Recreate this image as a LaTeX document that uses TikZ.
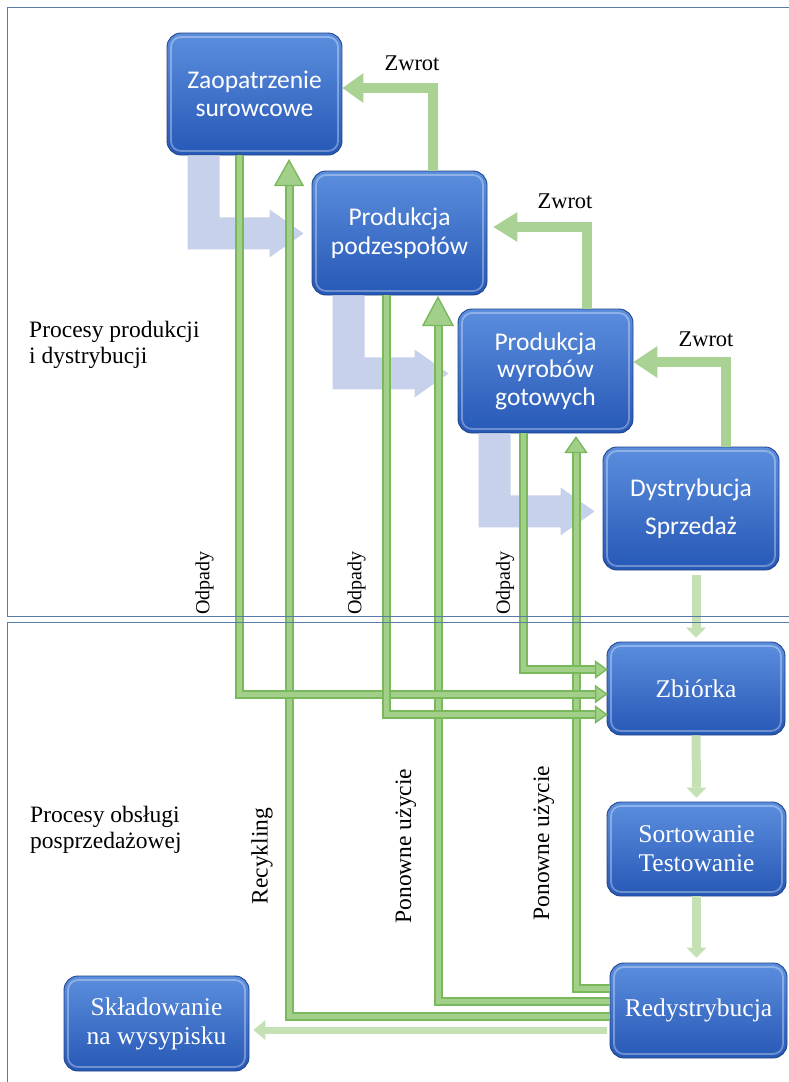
\documentclass[tikz,border=0pt]{standalone}
\usepackage{fontspec}
\setmainfont{Liberation Serif}
\newfontfamily\calibri{Carlito}
\usetikzlibrary{calc}

\definecolor{panelline}{RGB}{88,122,166}
\definecolor{boxtop}{RGB}{92,142,222}
\definecolor{boxbot}{RGB}{38,88,182}
\definecolor{boxedge}{RGB}{34,68,138}
\definecolor{flowblue}{RGB}{200,209,236}
\definecolor{zwrotgreen}{RGB}{170,210,148}
\definecolor{lightflow}{RGB}{197,224,180}
\definecolor{gedge}{RGB}{122,184,92}
\definecolor{gfill}{RGB}{162,208,138}

% arrow heads: style, tip coordinate, length, half width
\newcommand\ahR[4]{\filldraw[#1] (#2) -- ($(#2)+(-#3,-#4)$) -- ($(#2)+(-#3,#4)$) -- cycle;}
\newcommand\ahL[4]{\filldraw[#1] (#2) -- ($(#2)+(#3,-#4)$) -- ($(#2)+(#3,#4)$) -- cycle;}
\newcommand\ahU[4]{\filldraw[#1] (#2) -- ($(#2)+(-#4,#3)$) -- ($(#2)+(#4,#3)$) -- cycle;}
\newcommand\ahD[4]{\filldraw[#1] (#2) -- ($(#2)+(-#4,-#3)$) -- ($(#2)+(#4,-#3)$) -- cycle;}

\begin{document}
\begin{tikzpicture}[x=1pt,y=-1pt,
  procbox/.style={rounded corners=14pt, draw=boxedge, line width=0.9pt,
    top color=boxtop, bottom color=boxbot, text=white, align=center, inner sep=0pt,
    path picture={\draw[white, opacity=0.33, line width=1.8pt, rounded corners=10pt]
      ([xshift=4pt,yshift=-4pt]path picture bounding box.north west) rectangle
      ([xshift=-4pt,yshift=4pt]path picture bounding box.south east);}},
  sansbox/.style={procbox, font=\calibri\fontsize{25.5}{28.5}\selectfont},
  serifbox/.style={procbox, font=\fontsize{25.5}{29}\selectfont},
  panel/.style={draw=panelline, line width=1pt},
  lbl/.style={align=left, inner sep=0pt, font=\fontsize{23.5}{25.8}\selectfont},
  zlbl/.style={inner sep=0pt, font=\fontsize{22.5}{26}\selectfont},
  olbl/.style={inner sep=0pt, rotate=90, font=\fontsize{20}{22}\selectfont},
  vlbl/.style={inner sep=0pt, rotate=90, font=\fontsize{23.5}{26}\selectfont},
  zwrot/.style={draw=zwrotgreen, line width=10pt, line join=miter},
  zhead/.style={fill=zwrotgreen, draw=none},
  gline/.style={draw=gfill, line width=5pt, line join=miter,
    preaction={draw=gedge, line width=9pt, line join=miter}},
  ghead/.style={fill=gfill, draw=gedge, line width=1.4pt, line join=miter},
  lflow/.style={draw=lightflow, line width=9pt},
  lhead/.style={fill=lightflow, draw=none},
  lshape/.pic={\fill[flowblue] (21,0) -- (53,0) -- (53,62) -- (103,62) -- (103,54)
      -- (137,78) -- (103,102) -- (103,94) -- (21,94) -- cycle;}
]
\useasboundingbox (0,0) rectangle (788,1082);
\fill[white] (0,0) rectangle (788,1082);

% process boxes
\node[sansbox, minimum width=175pt, minimum height=122pt] (zao) at (254.5,94) {Zaopatrzenie\\surowcowe};
\node[sansbox, minimum width=175pt, minimum height=124pt] (pod) at (399.5,233) {Produkcja\\podzespołów};
\node[sansbox, minimum width=175pt, minimum height=124pt, font=\calibri\fontsize{25.5}{27.5}\selectfont] (wyr) at (545.5,371) {Produkcja\\wyrobów\\gotowych};
\node[sansbox, minimum width=176pt, minimum height=123pt, font=\calibri\fontsize{25.5}{38}\selectfont] (dys) at (691,508.5) {Dystrybucja\\Sprzedaż};
\node[serifbox, minimum width=178pt, minimum height=93pt] (zbi) at (696,688.5) {Zbiórka};
\node[serifbox, minimum width=179pt, minimum height=94pt] (sor) at (696.5,849) {Sortowanie\\Testowanie};
\node[serifbox, minimum width=177pt, minimum height=95pt] (red) at (698.5,1010.5) {Redystrybucja};
\node[serifbox, minimum width=185pt, minimum height=95pt] (skl) at (156.5,1023.5) {Składowanie\\na wysypisku};

% main flow between production stages
\pic at (zao.south west) {lshape};
\pic at (pod.south west) {lshape};
\pic at (wyr.south west) {lshape};

% returns (Zwrot)
\coordinate (zw1) at (433,88);
\coordinate (zw1t) at (zao.east |- zw1);
\draw[zwrot] (pod.north -| zw1) -- (zw1) -- ($(zw1t)+(21,0)$);
\ahL{zhead}{zw1t}{21}{15}
\coordinate (zw2) at (587,227);
\coordinate (zw2t) at ($(pod.east |- zw2)+(6,0)$);
\draw[zwrot] (wyr.north -| zw2) -- (zw2) -- ($(zw2t)+(24,0)$);
\ahL{zhead}{zw2t}{24}{15}
\coordinate (zw3) at (726,362);
\coordinate (zw3t) at (wyr.east |- zw3);
\draw[zwrot] (dys.north -| zw3) -- (zw3) -- ($(zw3t)+(24,0)$);
\ahL{zhead}{zw3t}{24}{16}

% reuse and recycling from redistribution
\coordinate (r1) at (289,1016);
\coordinate (r1t) at ($(zao.south -| r1)+(0,5)$);
\draw[gline] (red.west |- r1) -- (r1) -- ($(r1t)+(0,25)$);
\ahU{ghead}{r1t}{25}{14}
\coordinate (p1) at (438,1001);
\coordinate (p1t) at ($(pod.south -| p1)+(0,2)$);
\draw[gline] (red.west |- p1) -- (p1) -- ($(p1t)+(0,28)$);
\ahU{ghead}{p1t}{28}{15}
\coordinate (p2) at (576,988);
\coordinate (p2t) at ($(wyr.south -| p2)+(0,4)$);
\draw[gline] (red.west |- p2) -- (p2) -- ($(p2t)+(0,15)$);
\ahU{ghead}{p2t}{15}{10.5}

% waste to collection (Odpady)
\coordinate (o1) at (239.5,694);
\coordinate (o1t) at (zbi.west |- o1);
\draw[gline] (zao.south -| o1) -- (o1) -- ($(o1t)+(-11,0)$);
\ahR{ghead}{o1t}{11}{8}
\coordinate (o2) at (386.5,714.5);
\coordinate (o2t) at (zbi.west |- o2);
\draw[gline] (pod.south -| o2) -- (o2) -- ($(o2t)+(-11,0)$);
\ahR{ghead}{o2t}{11}{8}
\coordinate (o3) at (523,669.5);
\coordinate (o3t) at (zbi.west |- o3);
\draw[gline] (wyr.south -| o3) -- (o3) -- ($(o3t)+(-11,0)$);
\ahR{ghead}{o3t}{11}{8}

% after-sales chain
\coordinate (dz) at ($(zbi.north)+(0,-4)$);
\draw[lflow] ($(zbi.north |- dys.south)+(0,5)$) -- ($(dz)+(0,-10)$);
\ahD{lhead}{dz}{10}{10}
\coordinate (zs) at ($(sor.north)+(0,-4)$);
\draw[lflow] (zbi.south) -- ($(zs)+(0,-10)$);
\ahD{lhead}{zs}{10}{10}
\coordinate (sr) at ($(sor.south |- red.north)+(0,-5)$);
\draw[lflow] (sor.south) -- ($(sr)+(0,-10)$);
\ahD{lhead}{sr}{10}{10}
\coordinate (rsa) at ([yshift=-19.5pt]red.west);
\coordinate (rsb) at ($(skl.east |- rsa)+(4,0)$);
\draw[lflow, line width=7pt] ($(rsa)+(-3,0)$) -- ($(rsb)+(12,0)$);
\ahL{lhead}{rsb}{12}{10}

% panels
\draw[panel] (7,7) rectangle (800,616);
\draw[panel] (7,622) rectangle (800,1095);

% labels
\node[lbl, anchor=north west] (lprod) at (29,321) {Procesy produkcji\\i dystrybucji};
\node[lbl, anchor=north west] (lpos) at (30,806) {Procesy obsługi\\posprzedażowej};
\node[zlbl] (zwt1) at (412,63) {Zwrot};
\node[zlbl] (zwt2) at (565,201) {Zwrot};
\node[zlbl] (zwt3) at (706,339) {Zwrot};
\node[olbl] (od1) at (204.5,583) {Odpady};
\node[olbl] (od2) at (356.5,583) {Odpady};
\node[olbl] (od3) at (505,583) {Odpady};
\node[vlbl] (rec) at (262,856) {Recykling};
\node[vlbl] (pon1) at (406,846) {Ponowne użycie};
\node[vlbl] (pon2) at (544,843) {Ponowne użycie};
\end{tikzpicture}
\end{document}
